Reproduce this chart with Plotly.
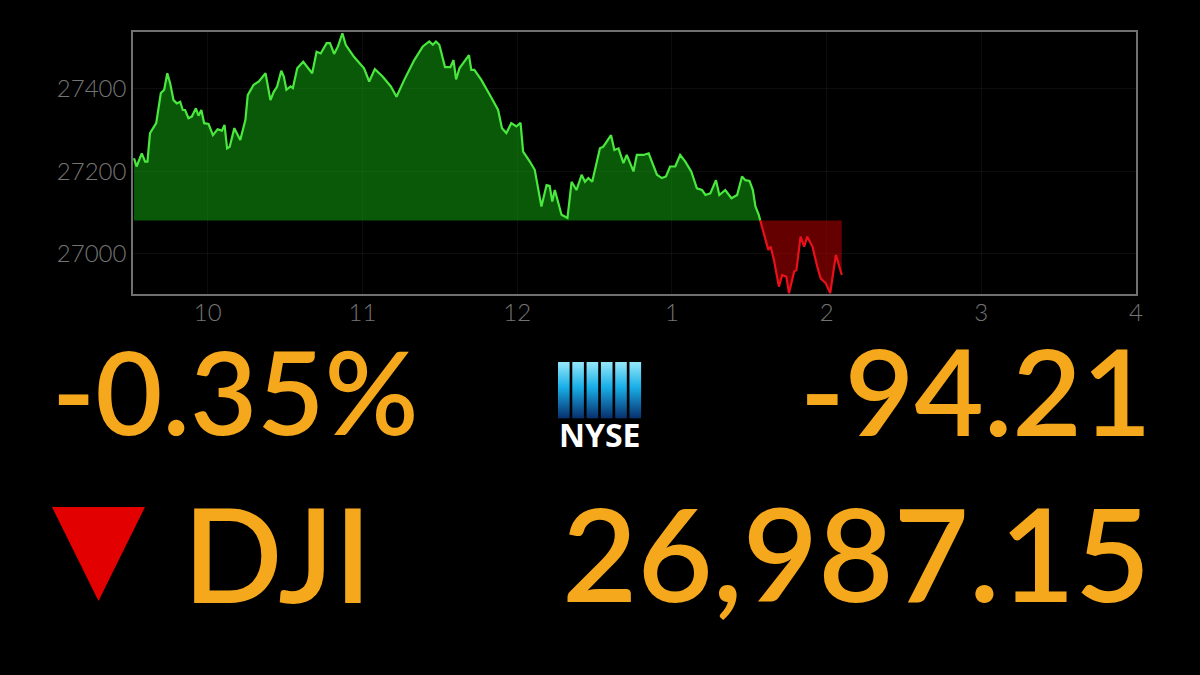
import plotly.graph_objects as go

# ---------------- data ----------------
# minutes after 9:30 open
times = [1.4, 2.4, 4.4, 5.7, 6.6, 7.6, 10.0, 11.8, 13.1, 14.3,
         15.4, 16.7, 18.0, 19.3, 20.3, 21.2, 22.5, 23.8, 25.4, 26.4,
         27.5, 28.6, 30.3, 32.0, 33.8, 35.5, 36.5, 37.5, 38.5, 40.3,
         42.6, 44.6, 45.5, 47.8, 49.8, 52.4, 54.3, 55.6, 56.9, 58.5,
         59.5, 60.5, 62.1, 63.0, 64.7, 67.0, 70.5, 72.2, 73.8, 76.1,
         77.4, 79.0, 80.5, 82.2, 83.5, 86.7, 90.6, 92.6, 94.8, 97.8,
         101.0, 103.2, 106.2, 110.1, 113.4, 115.9, 117.3, 118.5, 119.8, 122.0,
         124.1, 125.3, 126.3, 127.6, 131.3, 132.2, 133.4, 136.1, 139.9, 142.6,
         144.1, 145.8, 147.7, 149.7, 151.3, 152.3, 154.9, 156.8, 159.4, 161.4,
         162.6, 163.6, 164.6, 167.2, 169.5, 171.1, 173.0, 175.0, 176.3, 177.6,
         179.1, 182.1, 183.4, 186.4, 187.7, 189.3, 191.2, 192.5, 195.1, 196.4,
         199.0, 201.0, 204.2, 206.1, 207.7, 209.3, 211.3, 213.2, 215.2, 217.5,
         219.7, 221.7, 223.0, 224.9, 227.1, 228.4, 230.7, 233.1, 235.3, 237.2,
         238.5, 240.1, 241.4, 242.4, 243.7, 244.4, 246.3, 247.4, 248.3, 249.6,
         251.5, 252.8, 254.4, 255.4, 257.4, 258.3, 259.9, 261.3, 262.5, 264.5,
         266.4, 267.7, 269.7, 271.4, 273.6, 274.9, 275.9]

values = [27232, 27212, 27244, 27224, 27224, 27293, 27317, 27390, 27398, 27438,
          27414, 27373, 27365, 27369, 27349, 27349, 27329, 27333, 27353, 27335,
          27349, 27317, 27315, 27288, 27302, 27299, 27313, 27256, 27260, 27305,
          27276, 27325, 27385, 27410, 27418, 27438, 27373, 27393, 27406, 27444,
          27430, 27398, 27406, 27402, 27450, 27466, 27438, 27490, 27486, 27511,
          27511, 27485, 27503, 27535, 27507, 27478, 27450, 27418, 27448, 27430,
          27406, 27381, 27422, 27470, 27503, 27515, 27507, 27515, 27507, 27453,
          27453, 27470, 27423, 27450, 27482, 27446, 27446, 27422, 27380, 27349,
          27305, 27293, 27317, 27309, 27318, 27248, 27224, 27204, 27115, 27167,
          27165, 27127, 27155, 27095, 27087, 27175, 27155, 27192, 27175, 27184,
          27175, 27256, 27260, 27288, 27252, 27256, 27220, 27240, 27200, 27240,
          27240, 27244, 27192, 27184, 27188, 27212, 27212, 27240, 27224, 27200,
          27159, 27155, 27143, 27147, 27179, 27143, 27155, 27135, 27143, 27188,
          27179, 27177, 27155, 27115, 27095, 27078, 27034, 27010, 27018, 26985,
          26921, 26949, 26945, 26905, 26957, 26961, 27042, 27018, 27042, 27018,
          26969, 26941, 26929, 26905, 26998, 26969, 26949]

prev_close = 27081.36
x_tick_vals = [30, 90, 150, 210, 270, 330, 390]
x_tick_text = ["10", "11", "12", "1", "2", "3", "4"]
y_tick_vals = [27000, 27200, 27400]
y_tick_text = ["27000", "27200", "27400"]

pct_change = "-0.35%"
pt_change = "-94.21"
index_name = "DJI"
index_level = "26,987.15"
exchange = "NYSE"

assert len(times) == len(values)

# ---------------- geometry helpers ----------------
W, H = 1200, 675
L, R, T, B = 133, 1136, 32, 294


def px(x):
    return (x - L) / (R - L)


def py(y):
    return (B - y) / (B - T)


# insert baseline crossings
xs, ys = [], []
for i in range(len(times)):
    if i > 0:
        y0, y1 = values[i - 1], values[i]
        if (y0 - prev_close) * (y1 - prev_close) < 0:
            t = times[i - 1] + (prev_close - y0) / (y1 - y0) * (times[i] - times[i - 1])
            xs.append(t)
            ys.append(prev_close)
    xs.append(times[i])
    ys.append(values[i])

up = [max(v, prev_close) for v in ys]
dn = [min(v, prev_close) for v in ys]
g_line = [v if v >= prev_close else None for v in ys]
r_line = [v if v <= prev_close else None for v in ys]
basel = [prev_close] * len(xs)

fig = go.Figure()
fig.add_trace(go.Scatter(x=xs, y=basel, mode="lines", line=dict(width=0),
                         hoverinfo="skip", showlegend=False))
fig.add_trace(go.Scatter(x=xs, y=up, mode="lines", line=dict(width=0),
                         fill="tonexty", fillcolor="rgba(20,190,20,0.47)",
                         hoverinfo="skip", showlegend=False))
fig.add_trace(go.Scatter(x=xs, y=basel, mode="lines", line=dict(width=0),
                         hoverinfo="skip", showlegend=False))
fig.add_trace(go.Scatter(x=xs, y=dn, mode="lines", line=dict(width=0),
                         fill="tonexty", fillcolor="rgba(215,0,0,0.47)",
                         hoverinfo="skip", showlegend=False))
fig.add_trace(go.Scatter(x=xs, y=g_line, mode="lines",
                         line=dict(color="#4ae83e", width=2.2),
                         connectgaps=False, showlegend=False))
fig.add_trace(go.Scatter(x=xs, y=r_line, mode="lines",
                         line=dict(color="#ea101a", width=2.2),
                         connectgaps=False, showlegend=False))

axis_font = dict(family="Lato, Open Sans, sans-serif", size=24, color="#747474", weight=300)

fig.update_xaxes(range=[1, 390], tickvals=x_tick_vals, ticktext=x_tick_text,
                 showgrid=True, gridcolor="rgba(255,255,255,0.05)", gridwidth=1,
                 zeroline=False, showline=True, linecolor="#707070", linewidth=1.5,
                 mirror=True, ticks="", ticklen=0, tickfont=axis_font,
                 ticklabelstandoff=-4)
fig.update_yaxes(range=[26903, 27538], tickvals=y_tick_vals, ticktext=y_tick_text,
                 showgrid=True, gridcolor="rgba(255,255,255,0.05)", gridwidth=1,
                 zeroline=False, showline=True, linecolor="#707070", linewidth=1.5,
                 mirror=True, ticks="", ticklen=0, tickfont=axis_font,
                 ticklabelstandoff=0)

shapes = []
# red down triangle
tri = [(52, 507), (145, 507), (98.5, 601)]
path = "M {} {} L {} {} L {} {} Z".format(px(tri[0][0]), py(tri[0][1]),
                                         px(tri[1][0]), py(tri[1][1]),
                                         px(tri[2][0]), py(tri[2][1]))
shapes.append(dict(type="path", xref="paper", yref="paper", path=path,
                   fillcolor="#e30000", line=dict(width=0), layer="above"))

# NYSE logo bars with vertical gradient (strips)
bar_left, bar_w, bar_gap = 558, 11.6, 2.7
bar_top, bar_bot = 362, 418
stops = [(0.0, (150, 232, 250)), (0.45, (25, 175, 232)), (1.0, (8, 48, 110))]


def grad(f):
    for (f0, c0), (f1, c1) in zip(stops[:-1], stops[1:]):
        if f0 <= f <= f1:
            t = (f - f0) / (f1 - f0)
            return "rgb({},{},{})".format(*[int(a + (b - a) * t) for a, b in zip(c0, c1)])
    return "rgb(8,48,110)"


n_strips = 28
for k in range(6):
    x0 = bar_left + k * (bar_w + bar_gap)
    x1 = x0 + bar_w
    for s in range(n_strips):
        y0 = bar_top + (bar_bot - bar_top) * s / n_strips
        y1 = bar_top + (bar_bot - bar_top) * (s + 1) / n_strips + 0.3
        shapes.append(dict(type="rect", xref="paper", yref="paper",
                           x0=px(x0), x1=px(x1), y0=py(y1), y1=py(y0),
                           fillcolor=grad((s + 0.5) / n_strips),
                           line=dict(width=0), layer="above"))

orange = "#f5a81c"
big_font = "Lato, Open Sans, sans-serif"
annotations = [
    dict(text=pct_change, x=px(50), y=py(390), xanchor="left", yanchor="middle",
         font=dict(family=big_font, size=116, color=orange, weight=600)),
    dict(text=pt_change, x=px(1153), y=py(390), xanchor="right", yanchor="middle",
         font=dict(family=big_font, size=120, color=orange, weight=600)),
    dict(text=index_name, x=px(181), y=py(552), xanchor="left", yanchor="middle",
         font=dict(family=big_font, size=131, color=orange, weight=600)),
    dict(text=index_level, x=px(1153), y=py(552), xanchor="right", yanchor="middle",
         font=dict(family=big_font, size=130, color=orange, weight=600)),
    dict(text="<b>" + exchange + "</b>", x=px(599.5), y=py(434), xanchor="center",
         yanchor="middle",
         font=dict(family="Open Sans, Lato, sans-serif", size=32, color="white")),
]
for a in annotations:
    a.update(xref="paper", yref="paper", showarrow=False)

fig.update_layout(width=W, height=H,
                  margin=dict(l=L, r=W - R, t=T, b=H - B, pad=0),
                  paper_bgcolor="black", plot_bgcolor="black",
                  shapes=shapes, annotations=annotations, showlegend=False,
                  hovermode=False)

fig.write_html("out.html",
               config={"displayModeBar": False},
               post_script="document.body.style.margin='0';"
                           "document.body.style.backgroundColor='black';"
                           "document.body.style.overflow='hidden';")
